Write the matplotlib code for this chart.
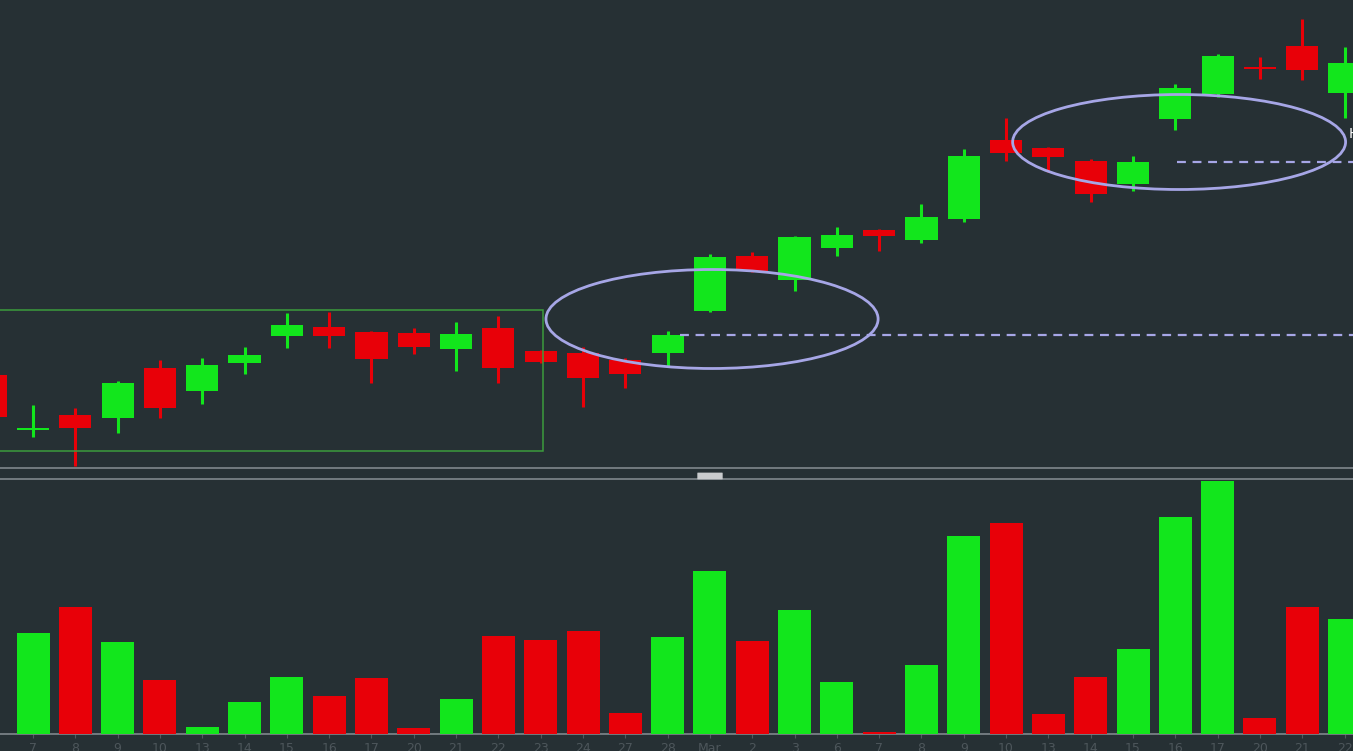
import numpy as np
import matplotlib
matplotlib.use("Agg")
import matplotlib.pyplot as plt
from matplotlib.patches import Ellipse, Rectangle, FancyBboxPatch

# Datos: velas diarias (feb-mar), el primer dia (6 feb) queda cortado a la izquierda
dias = ["6", "7", "8", "9", "10", "13", "14", "15", "16", "17", "20", "21", "22", "23", "24",
        "27", "28", "Mar", "2", "3", "6", "7", "8", "9", "10", "13", "14", "15", "16", "17",
        "20", "21", "22"]
apertura = [109.5, 104.0, 105.5, 105.2, 110.2, 107.9, 110.7, 113.4, 114.3, 113.8, 113.7,
            112.1, 114.2, 111.9, 111.7, 111.0, 111.7, 115.9, 121.4, 119.0, 122.2, 124.0,
            123.0, 125.1, 133.0, 132.2, 130.9, 128.6, 135.1, 137.6, 140.3, 142.4, 137.7]
cierre = [105.3, 104.2, 104.2, 108.7, 106.2, 110.5, 111.5, 114.5, 113.4, 111.1, 112.3,
          113.6, 110.2, 110.8, 109.2, 109.6, 113.5, 121.3, 119.9, 123.3, 123.5, 123.4,
          125.3, 131.4, 131.7, 131.3, 127.6, 130.8, 138.2, 141.4, 140.1, 140.0, 140.7]
maximo = [110.0, 106.5, 106.2, 108.9, 111.0, 111.2, 112.3, 115.7, 115.8, 113.9, 114.2,
          114.8, 115.4, 112.0, 112.3, 111.2, 113.9, 121.6, 121.8, 123.4, 124.3, 124.1,
          126.6, 132.1, 135.2, 132.3, 131.1, 131.4, 138.6, 141.6, 141.3, 145.1, 142.3]
minimo = [105.0, 103.3, 100.4, 103.7, 105.2, 106.6, 109.6, 112.2, 112.2, 108.7, 111.6,
          109.9, 108.7, 110.7, 106.3, 108.2, 110.4, 115.8, 119.8, 117.9, 121.4, 121.9,
          122.7, 124.8, 130.9, 129.8, 126.8, 127.9, 134.0, 137.3, 139.1, 139.0, 135.2]
volumen = [0, 101, 127, 92, 54, 7, 32, 57, 38, 56, 6, 35, 98, 94, 103, 21, 97, 162, 93,
           124, 52, 2, 69, 197, 210, 20, 57, 85, 216, 252, 16, 127, 115]

# Colores
fondo = "#263034"
verde = "#12e61c"
rojo = "#e80008"
gris = "#80878c"
lila = "#a6a6e6"

x = np.arange(len(dias)) - 1
o = np.array(apertura)
c = np.array(cierre)
sube = c >= o
colores = [verde if s else rojo for s in sube]

fig = plt.figure(figsize=(13.53, 7.51), dpi=100, facecolor=fondo)
ax = fig.add_axes([0, 1 - 468 / 751, 1, 468 / 751], facecolor=fondo)
axv = fig.add_axes([0, 17 / 751, 1, 255 / 751], facecolor=fondo)

# Velas
ax.vlines(x, minimo, maximo, color=colores, linewidth=2.2, zorder=2)
cuerpo = np.maximum(np.abs(c - o), 0.25)
ax.bar(x, cuerpo, bottom=np.minimum(o, c), width=0.76, color=colores, zorder=3)

# Dibujos sobre el grafico
ax.add_patch(Rectangle((-2, 101.9), 14.06, 14.1, fill=False, edgecolor="#3c9c3c", linewidth=1.1, zorder=4))
ax.add_patch(Ellipse((16.05, 115.1), 7.85, 9.9, fill=False, edgecolor=lila, linewidth=2.0, zorder=5))
ax.add_patch(Ellipse((27.09, 132.8), 7.87, 9.5, fill=False, edgecolor=lila, linewidth=2.0, zorder=5))
ax.hlines(c[16], 15.3, 32, color=lila, linewidth=1.6, linestyles=(0, (4, 3)), zorder=4)
ax.hlines(c[27], 27.05, 32, color=lila, linewidth=1.6, linestyles=(0, (4, 3)), zorder=4)

ax.set_xticks([])
ax.set_yticks([])
ax.set_xlim(-0.78, 31.2)
ax.set_ylim(100.2, 147)
for s in ["top", "left", "right"]:
    ax.spines[s].set_visible(False)
ax.spines["bottom"].set_color(gris)
ax.spines["bottom"].set_linewidth(1.2)

# Volumen
axv.bar(x, volumen, width=0.78, color=colores, zorder=3)
axv.set_yticks([])
axv.set_xticks(x)
axv.set_xticklabels(dias)
axv.set_xlim(-0.78, 31.2)
axv.set_ylim(0, 254)
axv.tick_params(axis="x", length=3, width=0.8, color="#50585d", pad=3, labelsize=9, labelcolor="#4d565b")
for s in ["left", "right"]:
    axv.spines[s].set_visible(False)
for s in ["top", "bottom"]:
    axv.spines[s].set_color(gris)
    axv.spines[s].set_linewidth(1.2)

# Tirador entre paneles
fig.patches.append(FancyBboxPatch((698 / 1353, 272 / 751), 24 / 1353, 6 / 751,
                                  boxstyle="round,pad=0.0005", transform=fig.transFigure,
                                  facecolor="#c9cbcd", edgecolor="none"))
fig.text(1349 / 1353, 1 - 134 / 751, "H", color="white", fontsize=10, ha="left", va="center")

fig.savefig("out.png", dpi=100, facecolor=fondo)
